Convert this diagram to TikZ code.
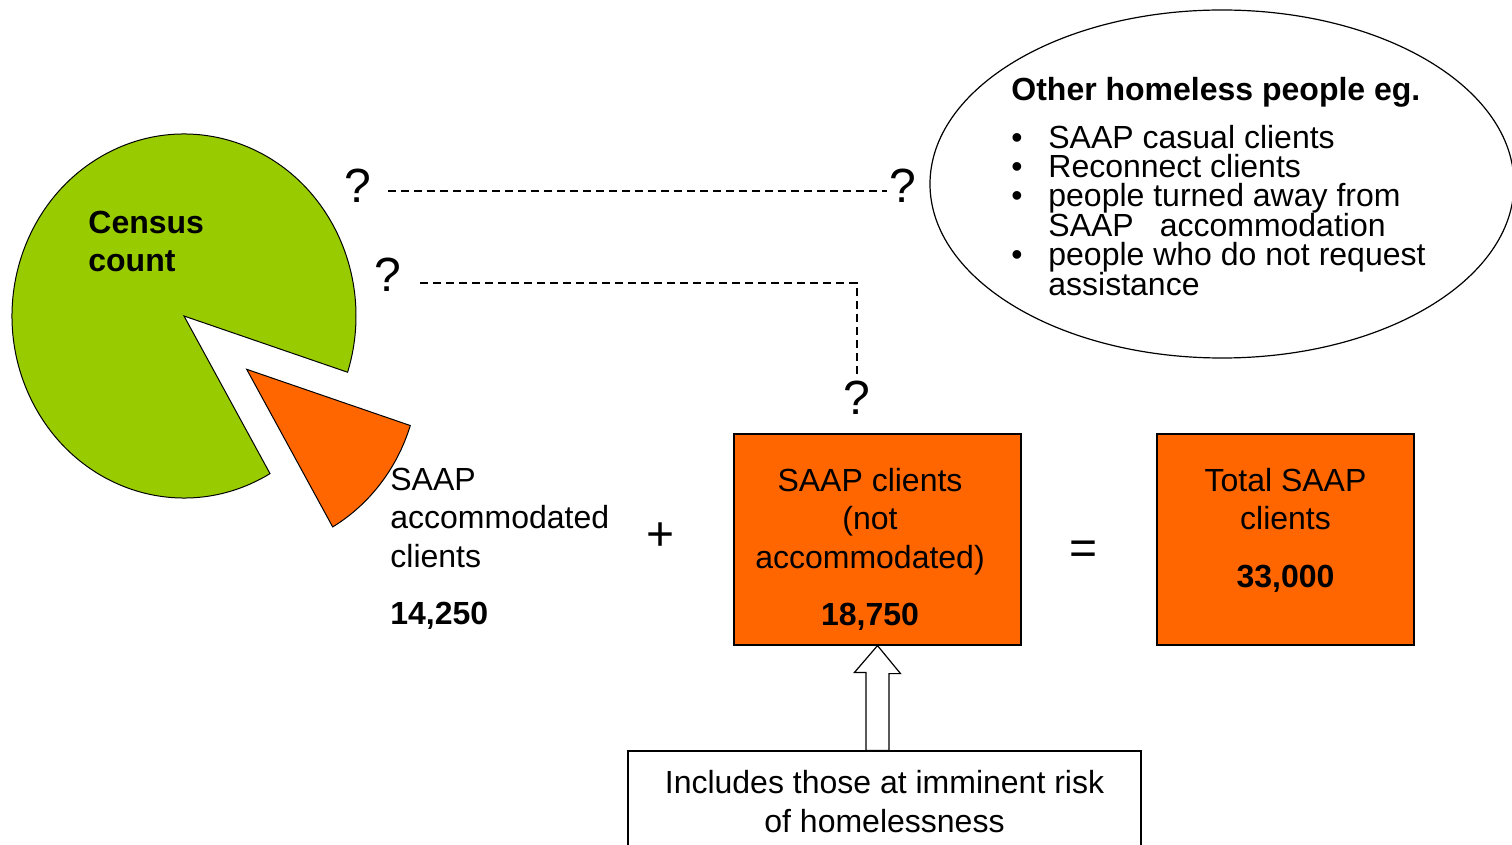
\documentclass[tikz,border=0pt]{standalone}
\usepackage{fontspec}
\setmainfont{Liberation Sans}
\usetikzlibrary{shapes.geometric,calc}

\definecolor{censusgreen}{HTML}{99CC00}
\definecolor{saaporange}{HTML}{FF6600}

\newcommand{\listbullet}{\makebox[18.5pt][l]{\textbullet}}
\newcommand{\tightlines}{\fontsize{16}{14.7}\selectfont\setlength{\lineskiplimit}{-20pt}}

\tikzstyle{block} = [rectangle, draw=black, line width=0.6pt, fill=saaporange, inner sep=0pt]
\tikzstyle{plaintext} = [inner sep=0pt, font=\fontsize{16}{19.25}\selectfont]
\tikzstyle{bigsign} = [inner sep=0pt, font=\fontsize{24}{28}\selectfont]
\tikzstyle{dashline} = [line width=1pt, dash pattern=on 4pt off 2.5pt]
\tikzstyle{hollow_arrow} = [draw=black, line width=0.6pt, fill=white]
\tikzstyle{slice} = [draw=black, line width=0.5pt]

\begin{document}
\begin{tikzpicture}[x=0.5pt, y=-0.5pt]

    \useasboundingbox (0,0) rectangle (1512,845);

    % Draw pie slices
    \draw [slice, fill=censusgreen] (184,316) -- +(60:172 and 182) arc[start angle=60, end angle=378, x radius=172, y radius=182] -- cycle;
    \draw [slice, fill=saaporange] (246.7,369.3) -- +(18:172 and 182) arc[start angle=18, end angle=60, x radius=172, y radius=182] -- cycle;
    \node (census) [plaintext, anchor=north west, align=left, font=\fontsize{16}{19}\selectfont\bfseries] at (88,210.5) {Census\\count};

    % Draw other homeless people
    \node (others) [ellipse, draw=black, line width=0.6pt, minimum width=292pt, minimum height=174pt, inner sep=0pt] at (1222,184) {};
    \node (otherstext) [plaintext, anchor=north west, align=left, font=\tightlines] at (1011,76.5) {\textbf{Other homeless people eg.}\\[9.3pt]\listbullet SAAP casual clients\\\listbullet Reconnect clients\\\listbullet people turned away from\\\hspace*{18.5pt}SAAP\hspace{13pt}accommodation\\\listbullet people who do not request\\\hspace*{18.5pt}assistance};

    % Draw nodes
    \node (accom) [plaintext, anchor=north west, align=left] at (390,467.5) {SAAP\\accommodated\\clients\\[9.25pt]\textbf{14,250}};
    \node (plus) [bigsign] at (661,537) {+};
    \node (saap) [block, minimum width=143.5pt, minimum height=105.5pt] at (877.5,539.5) {};
    \node (saaptext) [plaintext, anchor=north, align=center] at (870,467.5) {SAAP clients\\(not\\accommodated)\\[9.25pt]\textbf{18,750}};
    \node (equals) [bigsign] at (1084,552.7) {=};
    \node (total) [block, minimum width=128.5pt, minimum height=105.5pt] at (1285.5,539.5) {};
    \node (totaltext) [plaintext, anchor=north, align=center] at (1285.5,467.5) {Total SAAP\\clients\\[9.75pt]\textbf{33,000}};
    \node (risk) [rectangle, draw=black, line width=0.6pt, fill=white, inner sep=0pt, minimum width=256.5pt, minimum height=50.5pt, align=center, font=\fontsize{16}{19.5}\selectfont] at (884.5,801.5) {Includes those at imminent risk\\of homelessness};

    % Draw hollow arrow
    \coordinate (arrowbase) at (saap.south |- risk.north);
    \draw [hollow_arrow] (saap.south) -- ++(23,28) -- ++(-11.5,0) -- ($(arrowbase)+(11.5,0)$) -- ($(arrowbase)+(-11.5,0)$) -- ++(0,-78) -- ++(-11.5,0) -- cycle;

    % Draw question marks
    \node (q1) [bigsign] at (358,185.5) {?};
    \node (q2) [bigsign] at (902.5,185.5) {?};
    \node (q3) [bigsign] at (388,275) {?};
    \node (q4) [bigsign] at (856.7,397.5) {?};

    % Draw connections
    \draw [dashline] ([shift={(8.3pt,-3pt)}]q1.east) -- ([shift={(-1pt,-3pt)}]q2.west);
    \draw [dashline] ([shift={(9.3pt,-3.85pt)}]q3.east) -| ([yshift=2.5pt]q4.north);

\end{tikzpicture}
\end{document}
